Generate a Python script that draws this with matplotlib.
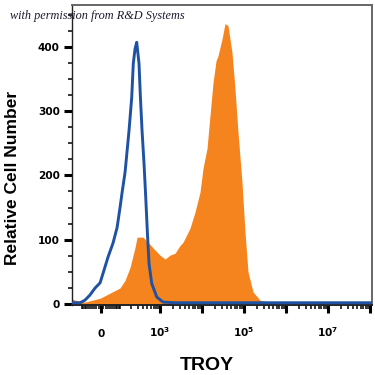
import numpy as np
import matplotlib
matplotlib.use("Agg")
import matplotlib.pyplot as plt
from matplotlib.ticker import FixedLocator, NullFormatter

# ---- data (fluorescence intensity vs. relative cell number) ----
isotype_x = [-209, -112, -79, -51, -26, -4, 9, 31, 56, 79, 98, 112, 137, 152, 175,
             205, 225, 249, 274, 312, 338, 370, 413, 454, 497, 546, 634, 836,
             1181, 2283, 1.1e8]
isotype_y = [2, 2, 6, 14, 25, 33, 48, 73, 95, 119, 150, 172, 205, 232, 270,
             321, 374, 397, 407, 374, 321, 270, 219, 167, 113, 63, 32, 11,
             3, 2, 2]

troy_x = [-209, -155, -79, -4, 41, 98, 137, 186, 249, 279, 391, 517, 760,
          1001, 1317, 1736, 2283, 3003, 3538, 5194, 6829, 8985, 10600, 13200,
          15540, 18330, 21600, 24100, 30000, 35400, 41700, 51900, 61200, 72200,
          89900, 105900, 124900, 164300, 241100, 374000, 600000, 1.1e8]
troy_y = [9, 6, 3, 9, 17, 25, 37, 57, 88, 104, 104, 96, 84,
          76, 70, 76, 79, 91, 96, 118, 143, 174, 211, 242,
          293, 344, 378, 386, 412, 436, 433, 391, 335, 267,
          189, 112, 50, 19, 6, 3, 0, 0]

x_ticks = [0, 1e3, 1e4, 1e5, 1e6, 1e7, 1e8]
x_tick_labels = ["0", r"$\mathbf{10^{3}}$", "", r"$\mathbf{10^{5}}$", "", r"$\mathbf{10^{7}}$", ""]
y_ticks = [0, 100, 200, 300, 400]
y_tick_labels = ["0", "100", "200", "300", "400"]

ORANGE = "#F5841F"
BLUE = "#1F52A3"
W = 79.0  # biexponential width parameter


def fwd(v):
    return np.arcsinh(np.asarray(v, dtype=float) / W) / np.log(10)


def inv(t):
    return W * np.sinh(np.asarray(t, dtype=float) * np.log(10))


plt.rcParams["mathtext.default"] = "bf"
fig = plt.figure(figsize=(3.75, 3.75), dpi=100)
ax = fig.add_axes([72 / 375, 1 - 305 / 375, 300 / 375, 300 / 375])
ax.set_xscale("function", functions=(fwd, inv))

ax.fill_between(troy_x, 0, troy_y, color=ORANGE, linewidth=0, zorder=1)
ax.plot(isotype_x, isotype_y, color=BLUE, linewidth=2.1, zorder=3,
        solid_joinstyle="round")

ax.set_xlim(-186, 1.12e8)
ax.set_ylim(-1.5, 465)

# x ticks
ax.xaxis.set_major_locator(FixedLocator(x_ticks))
ax.set_xticklabels(x_tick_labels)
minor = []
for s in (-1, 1):
    for k in (10, 100):
        for m in range(1, 10):
            minor.append(s * m * k)
for e in range(3, 8):
    for m in range(2, 10):
        minor.append(m * 10 ** e)
minor = [v for v in minor if -186 < v < 1.12e8 and v not in x_ticks]
ax.xaxis.set_minor_locator(FixedLocator(minor))
ax.xaxis.set_minor_formatter(NullFormatter())

# y ticks
ax.set_yticks(y_ticks)
ax.set_yticklabels(y_tick_labels)
ax.yaxis.set_minor_locator(FixedLocator([25, 50, 75, 125, 150, 175, 225, 250, 275,
                                         325, 350, 375, 425, 450]))

ax.tick_params(axis="both", which="major", length=5.8, width=2.2, color="black",
               direction="out")
ax.tick_params(axis="both", which="minor", length=3.0, width=1.1, color="black",
               direction="out")
ax.tick_params(axis="y", which="major", pad=3, labelsize=7.6)
ax.tick_params(axis="x", which="major", pad=17, labelsize=7.6)
for lab in ax.get_yticklabels():
    lab.set_fontweight("bold")
for lab in ax.get_xticklabels():
    lab.set_fontweight("bold")
    lab.set_verticalalignment("baseline")

for side in ("top", "right"):
    ax.spines[side].set_color("#666666")
    ax.spines[side].set_linewidth(1.4)
ax.spines["left"].set_color("#222222")
ax.spines["left"].set_linewidth(1.0)
ax.spines["bottom"].set_color("#222222")
ax.spines["bottom"].set_linewidth(1.4)

lab_font = ["Liberation Sans Narrow", "Liberation Sans", "DejaVu Sans"]
ax.set_ylabel("Relative Cell Number", fontsize=12.5, fontweight="bold",
              family=lab_font, va="center")
ax.yaxis.set_label_coords(-0.197, 0.423)
ax.set_xlabel("TROY", fontsize=14, fontweight="bold", family=lab_font, va="center")
ax.xaxis.set_label_coords(0.45, -0.2)

fig.text(10 / 375, 1 - 16 / 375, "with permission from R&D Systems",
         fontsize=8.8, style="italic", family=["Liberation Serif", "DejaVu Serif"],
         color="#1b1b2f", ha="left", va="center")

fig.savefig("out.png", dpi=100)
